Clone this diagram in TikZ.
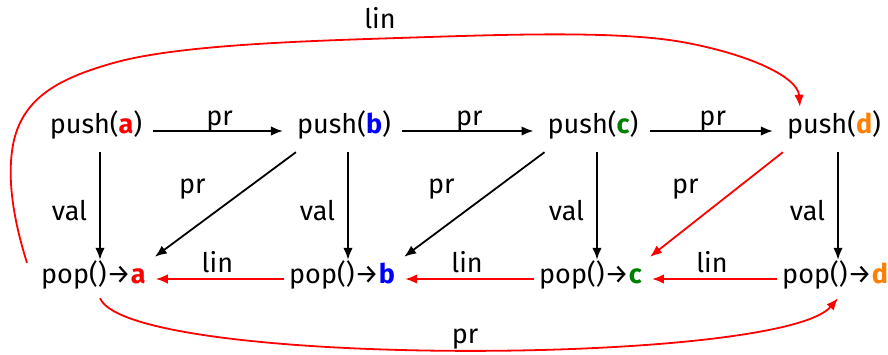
\documentclass[tikz,border=0pt]{standalone}
\usepackage{fontspec}
\setmainfont{Fira Sans}
\usetikzlibrary{arrows.meta}
\definecolor{cA}{RGB}{255,0,0}
\definecolor{cB}{RGB}{0,0,255}
\definecolor{cC}{RGB}{0,128,0}
\definecolor{cD}{RGB}{255,128,0}
\begin{document}
\begin{tikzpicture}[x=1pt,y=-1pt,
  font=\fontsize{27}{31}\selectfont,
  txt/.style={inner sep=0pt,text height=20pt,text depth=6pt},
  lbl/.style={inner sep=0pt,anchor=base},
  arr/.style={-{Latex[length=12pt,width=9.5pt]},line width=1.8pt},
  rarr/.style={arr,draw=cA,fill=cA}]
\useasboundingbox (0,0) rectangle (888,354);
% push nodes (base line y=133)
\node[txt,anchor=base] (pa) at (96,133) {push(\textbf{\color{cA}a})};
\node[txt,anchor=base] (pb) at (344,133) {push(\textbf{\color{cB}b})};
\node[txt,anchor=base] (pc) at (593,133) {push(\textbf{\color{cC}c})};
\node[txt,anchor=base] (pd) at (834,133) {push(\textbf{\color{cD}d})};
% pop nodes (base line y=283)
\node[txt,anchor=base west] (qa) at (41,283) {pop()→\textbf{\color{cA}a}};
\node[txt,anchor=base west] (qb) at (289,283) {pop()→\textbf{\color{cB}b}};
\node[txt,anchor=base west] (qc) at (539,283) {pop()→\textbf{\color{cC}c}};
\node[txt,anchor=base west] (qd) at (782,283) {pop()→\textbf{\color{cD}d}};
% horizontal pr arrows
\foreach \s/\t in {pa/pb,pb/pc,pc/pd}{
  \draw[arr,shorten <=11pt,shorten >=14pt] ([yshift=2pt]\s.base east) -- ([yshift=2pt]\t.base west)
    node[lbl,pos=0.5,yshift=6pt] (h\s) {pr};
}
% vertical val arrows
\foreach \s/\t in {pa/qa,pb/qb,pc/qc,pd/qd}{
  \draw[arr] ([xshift=4pt,yshift=-13pt]\s.south) -- ([xshift=4pt,yshift=3pt]\s.south |- \t.north)
    node[lbl,anchor=base east,pos=0.5,xshift=-12pt,yshift=-14pt] (v\s) {val};
}
% diagonal pr arrows
\draw[arr] ([shift={(-1pt,-13pt)}]pb.south west) -- ([shift={(9pt,6pt)}]qa.north east)
  node[lbl,pos=0.5,xshift=-33pt,yshift=11pt] (db) {pr};
\draw[arr] ([shift={(-3pt,-13pt)}]pc.south west) -- ([shift={(9pt,6pt)}]qb.north east)
  node[lbl,pos=0.5,xshift=-33pt,yshift=11pt] (dc) {pr};
\draw[rarr] ([shift={(-4pt,-13pt)}]pd.south west) -- ([shift={(8pt,6pt)}]qc.north east)
  node[lbl,pos=0.5,xshift=-31pt,yshift=11pt,text=black] (dd) {pr};
% bottom lin arrows
\foreach \s/\t in {qb/qa,qc/qb,qd/qc}{
  \draw[rarr,shorten <=5pt,shorten >=10pt] ([yshift=4pt]\s.base west) -- ([yshift=4pt]\t.base east)
    node[lbl,pos=0.5,yshift=7pt,text=black] (l\s) {lin};
}
% long top lin curve
\draw[rarr,fill=none] ([shift={(-14pt,0pt)}]qa.north west)
  .. controls (16,228) and (5,180) .. (14,140)
  .. controls (24,100) and (54,79) .. (117,62)
  .. controls (180,45) and (304,41) .. (398,38)
  .. controls (492,35) and (615,30) .. (682,42)
  .. controls (749,54) and (798,77) .. ([shift={(13pt,6pt)}]pd.north west);
\node[lbl] (toplin) at (380,28) {lin};
% long bottom pr curve
\draw[rarr,fill=none] ([xshift=4pt,yshift=-9pt]pa.south |- qa.south)
  .. controls (130,368) and (780,366) .. ([xshift=4pt,yshift=-9pt]pd.south |- qd.south);
\node[lbl] (botpr) at (465,343) {pr};
\end{tikzpicture}
\end{document}
